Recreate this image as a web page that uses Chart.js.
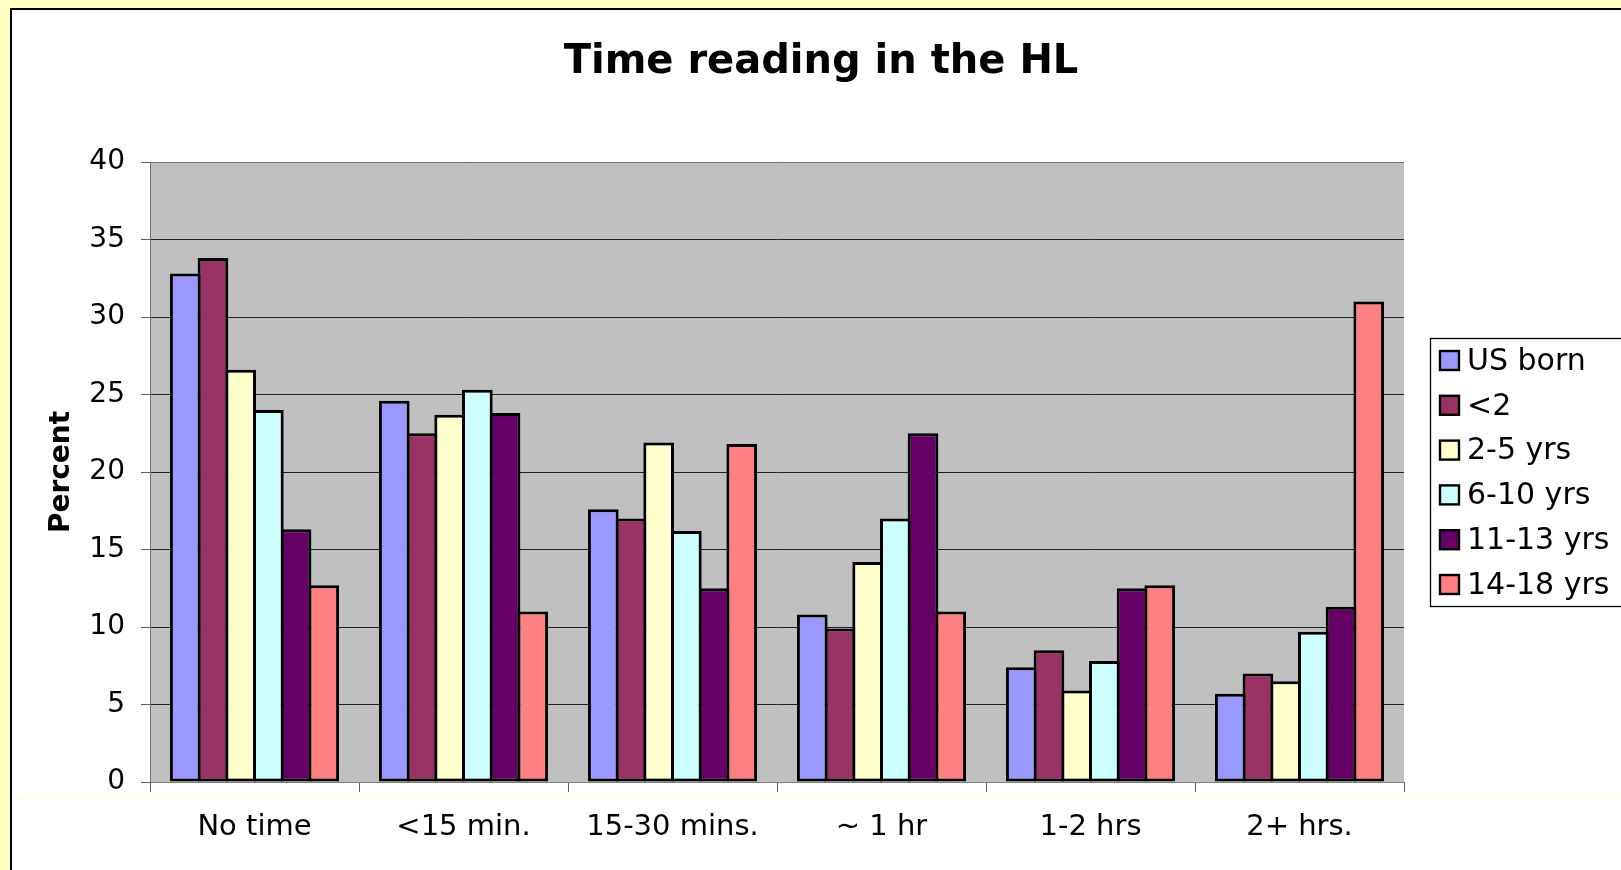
<!DOCTYPE html>
<html>
<head>
<meta charset="utf-8">
<script src="https://cdn.jsdelivr.net/npm/chart.js@4/dist/chart.umd.min.js"></script>
<style>
  html, body { margin: 0; padding: 0; width: 1621px; height: 870px; overflow: hidden; background: #FFFFC0; }
  #sheet { position: absolute; left: 10px; top: 8px; width: 1700px; height: 900px; background: #FFFFFF;
           border-left: 2px solid #000; border-top: 2px solid #000; }
  #rule { position: absolute; left: 12px; top: 797px; width: 1700px; height: 1px; background: #FFFFC8; }
  #c { position: absolute; left: 0; top: 0; }
</style>
</head>
<body>
<div id="sheet"></div>
<div id="rule"></div>
<canvas id="c" width="1642" height="870"></canvas>
<script>
const categories = ['No time', '<15 min.', '15-30 mins.', '~ 1 hr', '1-2 hrs', '2+ hrs.'];
const seriesNames = ['US born', '<2', '2-5 yrs', '6-10 yrs', '11-13 yrs', '14-18 yrs'];
const usBorn    = [32.8, 24.6, 17.6, 10.8, 7.4, 5.7];
const lessThan2 = [33.8, 22.5, 17.0, 9.9, 8.5, 7.0];
const yrs2to5   = [26.6, 23.7, 21.9, 14.2, 5.9, 6.5];
const yrs6to10  = [24.0, 25.3, 16.2, 17.0, 7.8, 9.7];
const yrs11to13 = [16.3, 23.8, 12.5, 22.5, 12.5, 11.3];
const yrs14to18 = [12.7, 11.0, 21.8, 11.0, 12.7, 31.0];
const yTickValues = [0, 5, 10, 15, 20, 25, 30, 35, 40];

const seriesValues = [usBorn, lessThan2, yrs2to5, yrs6to10, yrs11to13, yrs14to18];
const seriesColors = ['#9999FF', '#993366', '#FFFFCC', '#CCFFFF', '#660066', '#FF8080'];

const FONT = '"DejaVu Sans", Verdana, sans-serif';

const plotBg = {
  id: 'plotBg',
  afterLayout(chart) {
    const t = chart.titleBlock;
    if (t) { t.left = 0; t.right = 1642; t.width = 1642; }
  },
  beforeDraw(chart) {
    const a = chart.chartArea, ctx = chart.ctx;
    ctx.save();
    ctx.fillStyle = '#C0C0C0';
    ctx.fillRect(a.left, a.top, a.right - a.left, a.bottom - a.top);
    ctx.restore();
  }
};

const boxLegend = {
  id: 'boxLegend',
  afterDraw(chart) {
    const ctx = chart.ctx;
    const left = 1430, top = 338, bottom = 606, right = 1660;
    ctx.save();
    ctx.fillStyle = '#FFFFFF';
    ctx.fillRect(left, top, right - left, bottom - top);
    ctx.strokeStyle = '#000';
    ctx.lineWidth = 1.3;
    ctx.strokeRect(left + 0.5, top + 0.5, right - left, bottom - top);
    ctx.font = '30px ' + FONT;
    ctx.textBaseline = 'middle';
    ctx.textAlign = 'left';
    const first = 361, step = 44.8;
    chart.data.datasets.forEach((ds, i) => {
      const cy = first + i * step;
      ctx.fillStyle = ds.backgroundColor;
      ctx.fillRect(1440, cy - 10, 19, 19);
      ctx.lineWidth = 2.4;
      ctx.strokeStyle = '#000';
      ctx.strokeRect(1440, cy - 10, 19, 19);
      ctx.fillStyle = '#000';
      ctx.fillText(ds.label, 1467, cy + 1);
    });
    ctx.restore();
  }
};

new Chart(document.getElementById('c'), {
  type: 'bar',
  data: {
    labels: categories,
    datasets: seriesNames.map((name, i) => ({
      label: name,
      data: seriesValues[i],
      backgroundColor: seriesColors[i],
      borderColor: '#000000',
      borderWidth: 3,
      borderSkipped: false,
      categoryPercentage: 0.795,
      barPercentage: 1.108
    }))
  },
  options: {
    responsive: false,
    devicePixelRatio: 1,
    animation: false,
    layout: { padding: { left: 0, top: 0, right: 238, bottom: 0 } },
    plugins: {
      legend: { display: false },
      tooltip: { enabled: false },
      title: {
        display: true,
        text: 'Time reading in the HL',
        color: '#000',
        font: { family: FONT, size: 40, weight: 'bold', lineHeight: 1.2 },
        padding: { top: 39, bottom: 75 }
      }
    },
    scales: {
      x: {
        grid: { offset: true, drawOnChartArea: false, drawTicks: true, tickLength: 10, tickColor: '#606060' },
        border: { display: true, color: '#808080', width: 1 },
        ticks: { color: '#000', padding: 18, font: { family: FONT, size: 29 }, maxRotation: 0, autoSkip: false },
        afterFit(scale) { scale.height = 88; }
      },
      y: {
        min: 0, max: 40,
        afterBuildTicks(scale) { scale.ticks = yTickValues.map(v => ({ value: v })); },
        grid: {
          color: ctx => (ctx.tick && (ctx.tick.value === 40 || ctx.tick.value === 0)) ? '#707070' : '#202020',
          lineWidth: 1, tickLength: 9, tickColor: '#606060'
        },
        border: { display: true, color: '#707070', width: 1 },
        ticks: { color: '#000', padding: 16, font: { family: FONT, size: 28 } },
        title: {
          display: true, text: 'Percent', color: '#000',
          font: { family: FONT, size: 28, weight: 'bold', lineHeight: 1.2 },
          padding: { top: 45, bottom: 0 }
        },
        afterFit(scale) { scale.width = 150; }
      }
    }
  },
  plugins: [plotBg, boxLegend]
});
</script>
</body>
</html>
